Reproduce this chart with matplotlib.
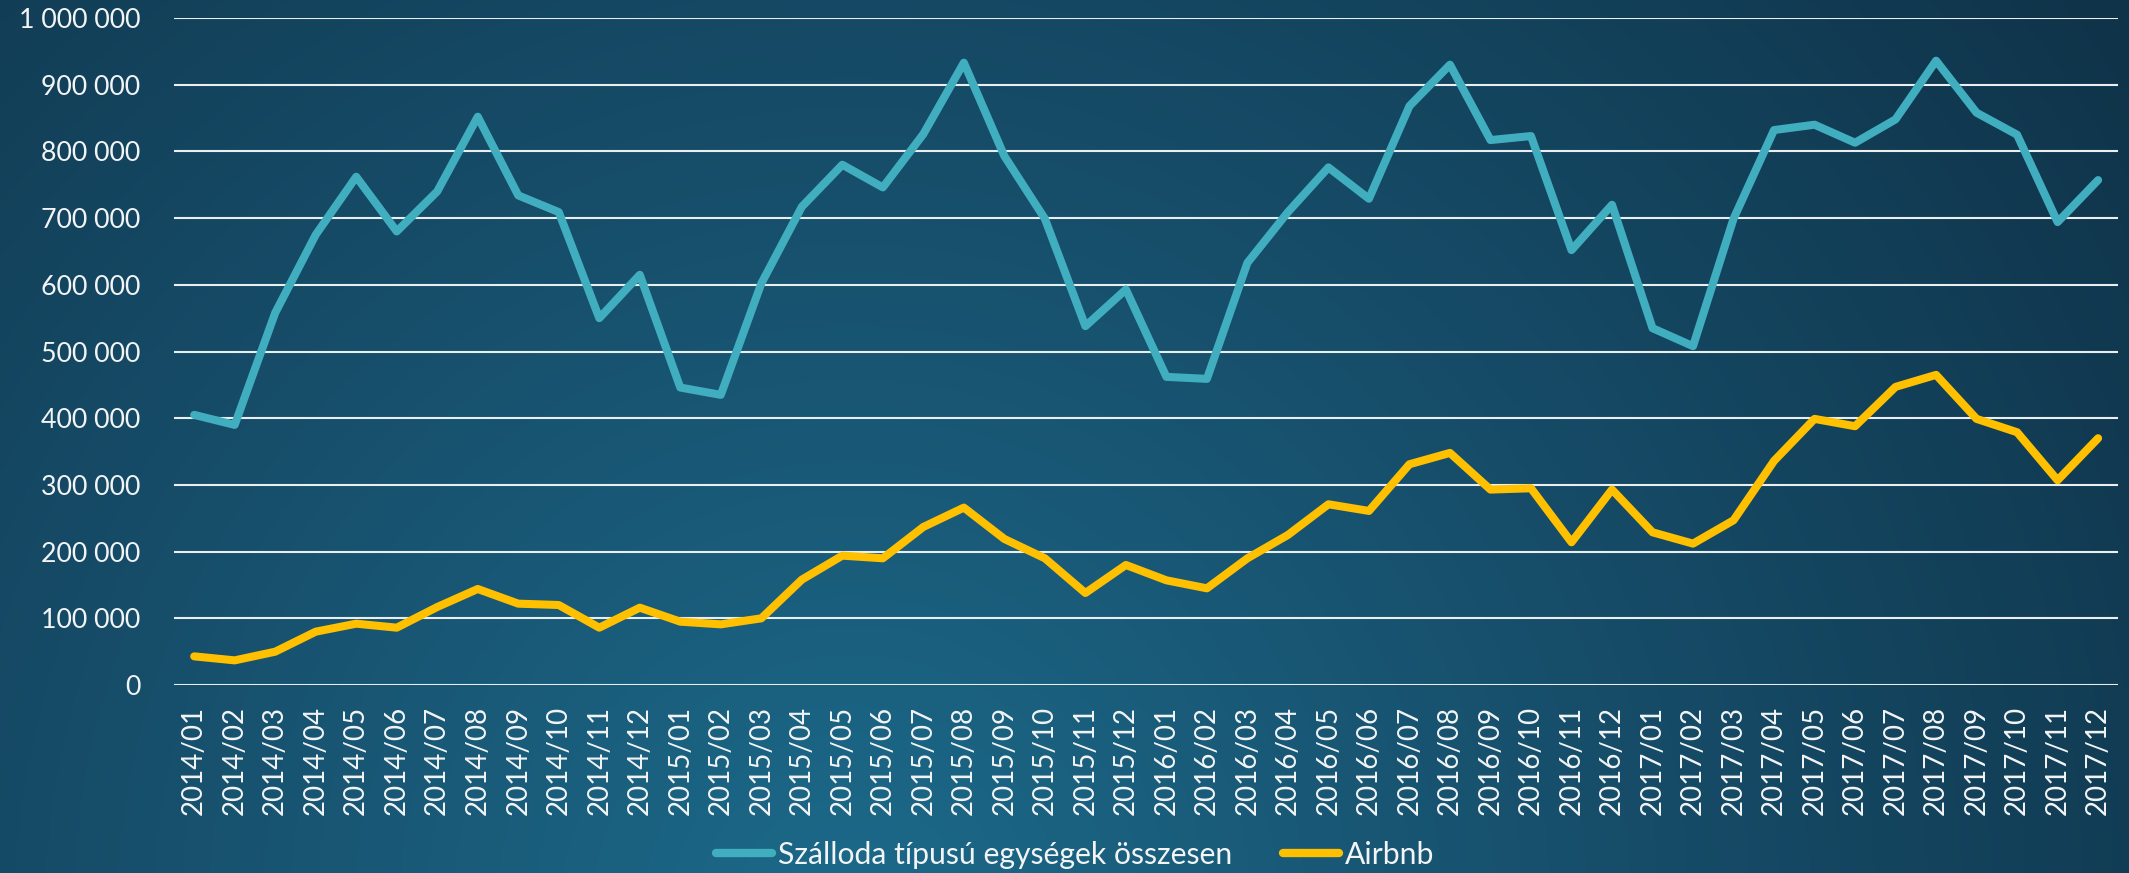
import numpy as np
import matplotlib
matplotlib.use("Agg")
import matplotlib.pyplot as plt
from matplotlib.colors import LinearSegmentedColormap

plt.rcParams['font.family'] = ['Lato', 'DejaVu Sans']

# data
months = ['2014/01', '2014/02', '2014/03', '2014/04', '2014/05', '2014/06',
          '2014/07', '2014/08', '2014/09', '2014/10', '2014/11', '2014/12',
          '2015/01', '2015/02', '2015/03', '2015/04', '2015/05', '2015/06',
          '2015/07', '2015/08', '2015/09', '2015/10', '2015/11', '2015/12',
          '2016/01', '2016/02', '2016/03', '2016/04', '2016/05', '2016/06',
          '2016/07', '2016/08', '2016/09', '2016/10', '2016/11', '2016/12',
          '2017/01', '2017/02', '2017/03', '2017/04', '2017/05', '2017/06',
          '2017/07', '2017/08', '2017/09', '2017/10', '2017/11', '2017/12']

hotel = [405000, 390000, 558000, 675000, 762000, 680000,
         740000, 852000, 734000, 709000, 550000, 615000,
         446000, 435000, 602000, 717000, 780000, 746000,
         826000, 933000, 793000, 699000, 538000, 593000,
         462000, 459000, 633000, 709000, 776000, 729000,
         868000, 930000, 817000, 823000, 652000, 720000,
         535000, 508000, 699000, 832000, 840000, 813000,
         848000, 936000, 858000, 825000, 694000, 757000]

airbnb = [43000, 37000, 50000, 80000, 92000, 86000,
          117000, 144000, 122000, 120000, 86000, 116000,
          95000, 91000, 100000, 158000, 194000, 190000,
          237000, 266000, 219000, 190000, 138000, 180000,
          157000, 145000, 190000, 225000, 271000, 261000,
          331000, 348000, 293000, 295000, 214000, 293000,
          229000, 212000, 247000, 336000, 399000, 388000,
          447000, 465000, 399000, 379000, 307000, 370000]

yticks = list(range(0, 1000001, 100000))
ytick_labels = ['{:,}'.format(v).replace(',', ' ') for v in yticks]

teal = '#41aebf'
gold = '#ffc000'
txt = '#f2f4f5'

fig = plt.figure(figsize=(21.29, 8.73), dpi=100)

# gradient background
bg = fig.add_axes([0, 0, 1, 1], zorder=-10)
bg.axis('off')
yy, xx = np.mgrid[0:1:300j, 0:1:600j]
dist = np.sqrt(((xx - 0.40) * 2.44) ** 2 + (yy - 1.05) ** 2)
dist = np.clip(dist / 1.9, 0, 1)
cmap = LinearSegmentedColormap.from_list('bg', ['#1c6888', '#164c68', '#0f3349'])
bg.imshow(dist, cmap=cmap, aspect='auto', extent=[0, 1, 0, 1], origin='upper',
          interpolation='bicubic')

ax = fig.add_axes([0.0817, 0.2153, 0.9133, 0.7641])
ax.patch.set_alpha(0)

x = np.arange(len(months))
ax.plot(x, hotel, color=teal, linewidth=5.8, solid_capstyle='round',
        label='Szálloda típusú egységek összesen', zorder=3)
ax.plot(x, airbnb, color=gold, linewidth=5.8, solid_capstyle='round',
        label='Airbnb', zorder=3)

ax.set_xlim(-0.5, len(months) - 0.5)
ax.set_ylim(0, 1000000)
ax.set_yticks(yticks)
ax.set_yticklabels(ytick_labels, fontsize=19.3, color=txt)
ax.set_xticks(x)
ax.set_xticklabels(months, rotation=90, fontsize=20, color=txt)
ax.tick_params(axis='both', length=0)
ax.tick_params(axis='y', pad=24)
ax.tick_params(axis='x', pad=15)

ax.grid(axis='y', color='#e9eef1', linewidth=1.5, zorder=1)
ax.set_axisbelow(True)
for s in ax.spines.values():
    s.set_visible(False)

leg = fig.legend(loc='center', bbox_to_anchor=(0.505, 0.021), ncol=2, frameon=False,
                 fontsize=21.7, handlelength=1.85, handletextpad=0.2, columnspacing=1.7)
for t in leg.get_texts():
    t.set_color(txt)
for h in leg.get_lines():
    h.set_linewidth(6)

plt.savefig('out.png', dpi=100)
